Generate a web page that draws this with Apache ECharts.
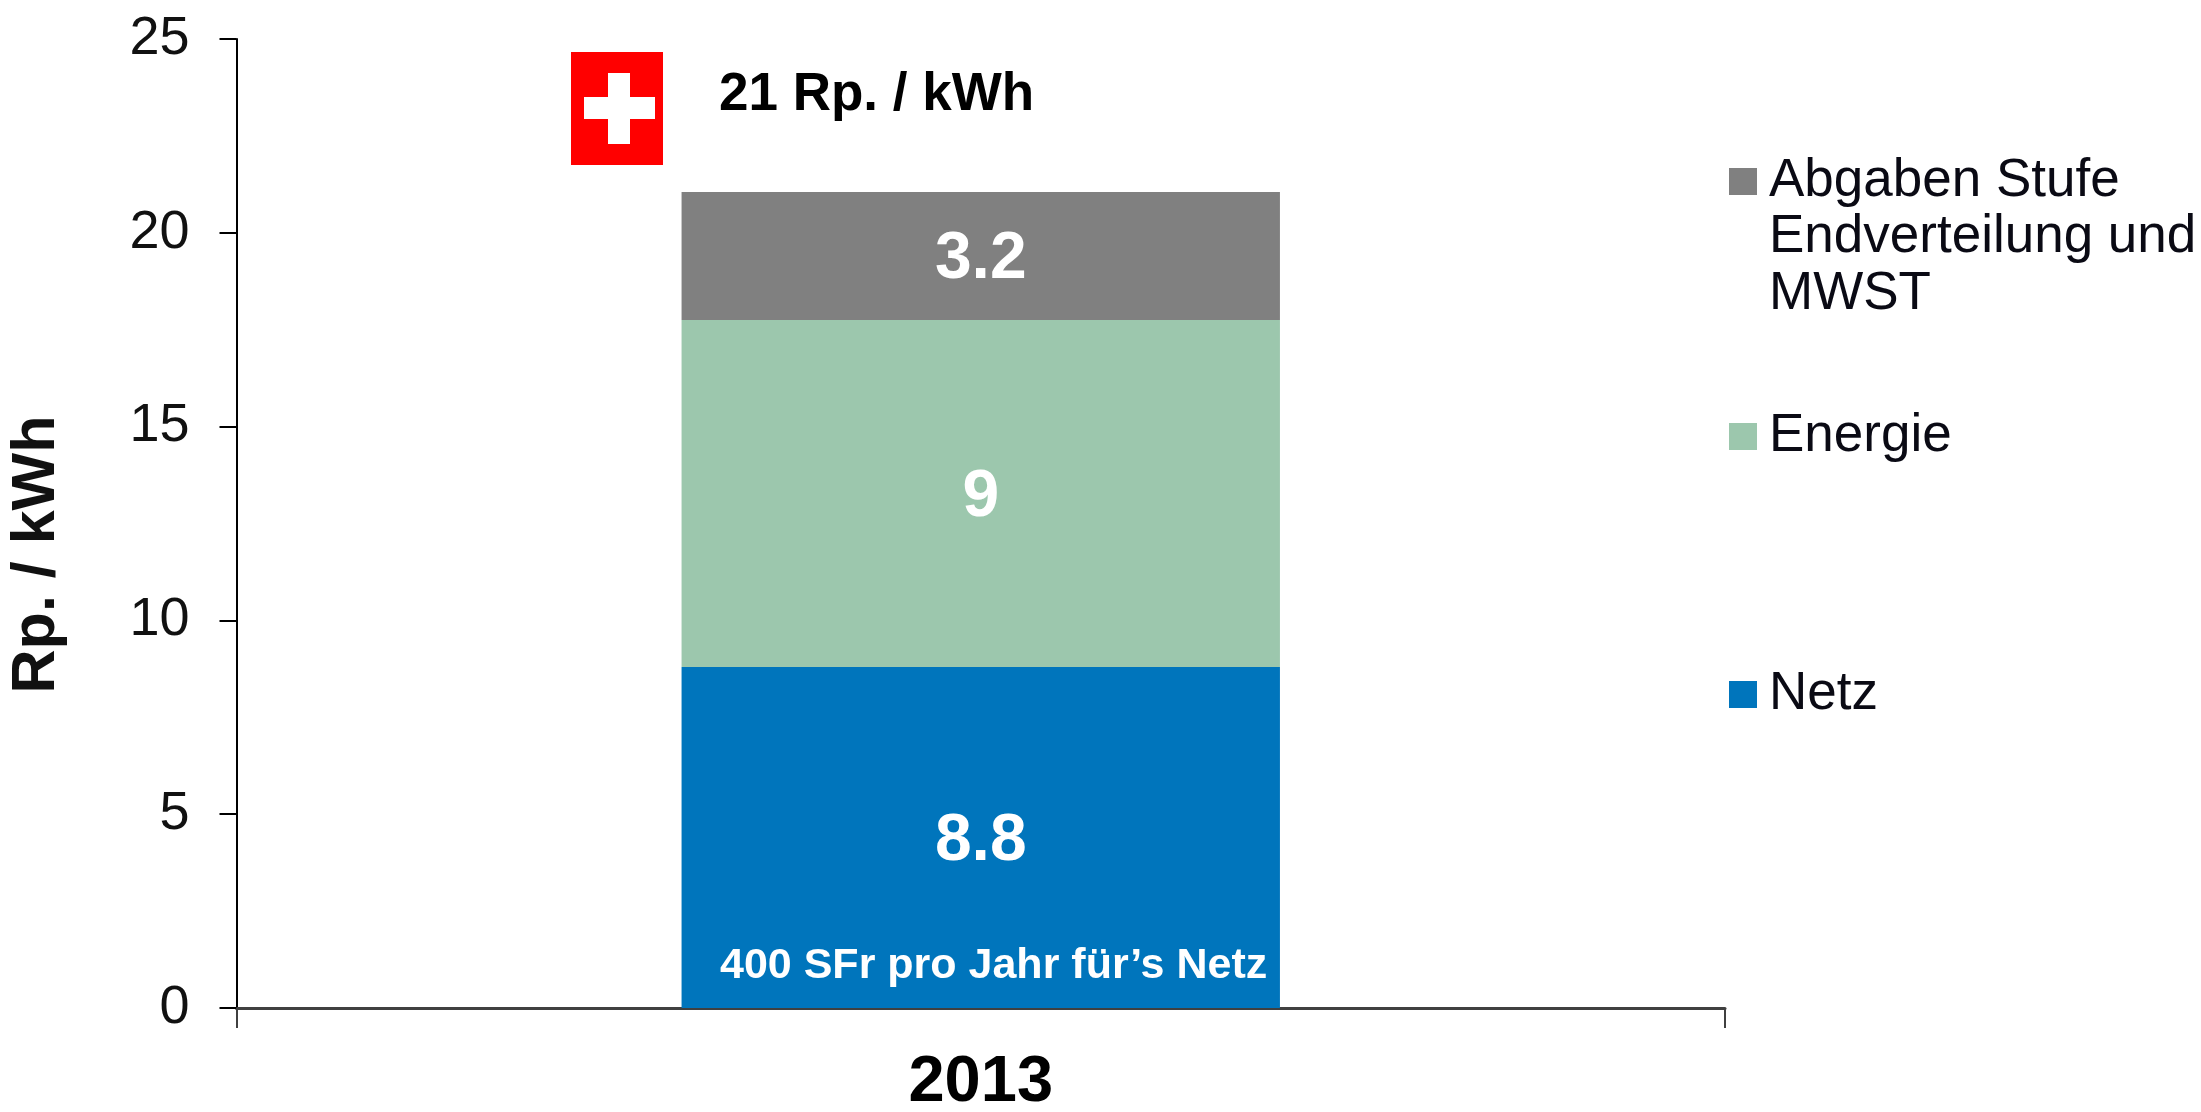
<!DOCTYPE html>
<html><head><meta charset="utf-8">
<style>html,body{margin:0;padding:0;background:#fff}#c{width:2201px;height:1112px}</style>
<script src="https://cdn.jsdelivr.net/npm/echarts@6/dist/echarts.min.js"></script>
</head><body><div id="c"></div>
<script>
const categories = ['2013'];
const netz = [8.8];
const energie = [8.95];
const abgaben = [3.3];
const netzLabel = '8.8', energieLabel = '9', abgabenLabel = '3.2';
const yTicks = [0, 5, 10, 15, 20, 25];
const seriesNames = ['Netz', 'Energie', 'Abgaben Stufe Endverteilung und MWST'];
const FONT = '"Liberation Sans", Arial, sans-serif';
const colors = { netz: '#0075bc', energie: '#9cc7ad', abgaben: '#808080' };

const chart = echarts.init(document.getElementById('c'), null, { renderer: 'canvas' });
function barSeries(name, data, color, text) {
  return {
    type: 'bar', name, data, stack: 'total', barWidth: '40.2%', itemStyle: { color },
    label: { show: true, position: 'inside', offset: [0, 4], formatter: text, color: '#fff', fontFamily: FONT, fontWeight: 'bold', fontSize: 66 }
  };
}
function legendAt(name, top, fmt) {
  return {
    show: true, left: 1729, top, padding: 0, orient: 'vertical', data: [name], selectedMode: false,
    itemWidth: 28, itemHeight: 27, icon: 'rect',
    formatter: fmt,
    textStyle: { fontFamily: FONT, fontSize: 53, color: '#0a0a14', padding: [0, 0, 0, 7] }
  };
}
chart.setOption({
  animation: false,
  backgroundColor: '#fff',
  grid: { left: 236.5, right: 476, top: 39, bottom: 104, outerBoundsMode: 'none' },
  xAxis: {
    type: 'category', data: categories,
    axisLine: { lineStyle: { color: '#404040', width: 3 } },
    axisTick: { show: true, length: 20, lineStyle: { color: '#404040', width: 2 } },
    axisLabel: { fontFamily: FONT, fontWeight: 'bold', fontSize: 65, color: '#000', margin: 43 }
  },
  yAxis: {
    type: 'value', min: 0, max: 25, interval: 5,
    name: 'Rp. / kWh', nameLocation: 'middle', nameGap: 169, nameRotate: 90,
    nameTextStyle: { fontFamily: FONT, fontWeight: 'bold', fontSize: 61, color: '#111', padding: [0, 62, 0, 0] },
    splitLine: { show: false },
    axisLine: { show: true, lineStyle: { color: '#000', width: 2 } },
    axisTick: { show: true, length: 17, lineStyle: { color: '#000', width: 2 } },
    axisLabel: { fontFamily: FONT, fontSize: 54, color: '#111', margin: 47, formatter: v => yTicks.includes(v) ? String(v) : '' }
  },
  legend: [
    legendAt(seriesNames[2], 155, () => 'Abgaben Stufe'),
    legendAt(seriesNames[1], 410, n => n),
    legendAt(seriesNames[0], 668, n => n)
  ],
  series: [
    barSeries(seriesNames[0], netz, colors.netz, netzLabel),
    barSeries(seriesNames[1], energie, colors.energie, energieLabel),
    barSeries(seriesNames[2], abgaben, colors.abgaben, abgabenLabel)
  ],
  graphic: [
    { type: 'rect', z: 100, shape: { x: 571, y: 52, width: 92, height: 113 }, style: { fill: '#ff0000' } },
    { type: 'rect', z: 101, shape: { x: 584, y: 97, width: 71, height: 22 }, style: { fill: '#fff' } },
    { type: 'rect', z: 101, shape: { x: 608, y: 73, width: 22, height: 71 }, style: { fill: '#fff' } },
    { type: 'text', z: 100, x: 719, y: 95, style: { text: '21 Rp. / kWh', fill: '#000', font: 'bold 53px ' + FONT, verticalAlign: 'middle' } },
    { type: 'text', z: 100, x: 720, y: 966, style: { text: '400 SFr pro Jahr für’s Netz', fill: '#fff', font: 'bold 43px ' + FONT, verticalAlign: 'middle' } },
    { type: 'text', z: 100, x: 1769, y: 209, style: { text: 'Endverteilung und\nMWST', fill: '#0a0a14', font: '53px ' + FONT, lineHeight: 57, verticalAlign: 'top' } }
  ]
});
</script></body></html>
